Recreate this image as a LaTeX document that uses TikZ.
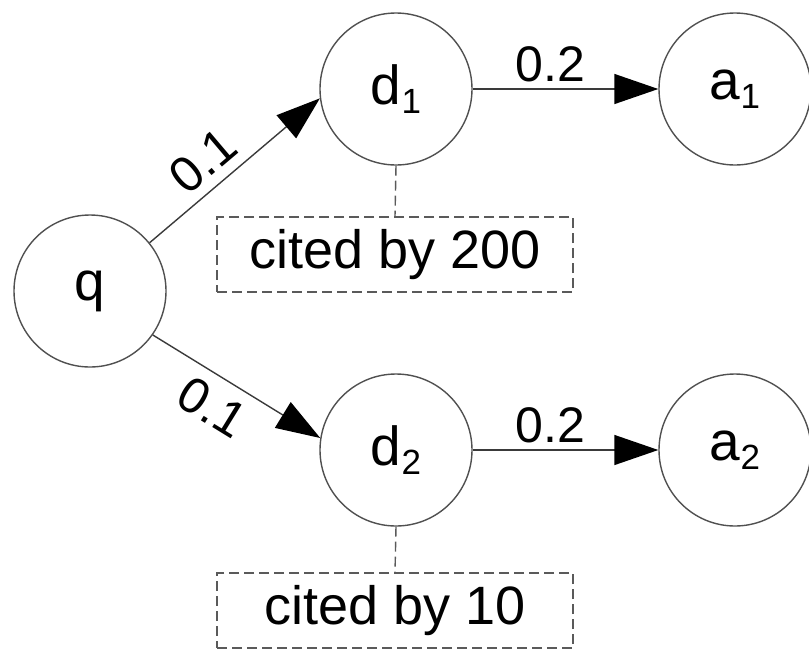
\documentclass[tikz,border=0pt]{standalone}
\usepackage{fontspec}
\setmainfont{Liberation Sans}
\usetikzlibrary{arrows.meta}
\definecolor{linegray}{HTML}{3A3A3A}
\definecolor{circgray}{HTML}{505050}
\definecolor{dashgray}{HTML}{5A5A5A}
\newcommand{\subidx}[1]{\raisebox{-9pt}{\fontsize{35}{40}\selectfont #1}}
\begin{document}
\begin{tikzpicture}[x=1pt,y=-1pt,
  state/.style={circle,draw=circgray,line width=1.4pt,minimum size=152pt,inner sep=0pt,font=\fontsize{55}{66}\selectfont},
  citebox/.style={draw=dashgray,dashed,dash pattern=on 10pt off 5pt,line width=1.4pt,minimum width=356pt,minimum height=75pt,inner sep=0pt,font=\fontsize{54}{64}\selectfont},
  arr/.style={draw=linegray,line width=1.4pt,-{Triangle[length=44pt,width=30pt,fill=black,color=black]}},
  dashline/.style={draw=dashgray,line width=1.4pt,dash pattern=on 10pt off 5pt},
  wlabel/.style={font=\fontsize{50}{60}\selectfont,inner sep=2pt}]
\useasboundingbox (0,0) rectangle (809,649);
\node[state] (q) at (90,291) {q};
\node[state] (d1) at (396,89) {d\subidx{1}};
\node[state] (a1) at (735,89) {a\subidx{1}};
\node[state] (d2) at (396,450) {d\subidx{2}};
\node[state] (a2) at (735,450) {a\subidx{2}};
\node[citebox] (c1) at (395,254.5) {cited by 200};
\node[citebox] (c2) at (395,610.5) {cited by 10};
\draw[arr] (q.39) -- node[wlabel,sloped,above=8pt,pos=0.42] (l1) {0.1} (d1.187);
\draw[arr] (q.-35) -- node[wlabel,sloped,below=10pt,pos=0.45] (l2) {0.1} (d2.171);
\draw[arr] (d1.east) -- node[wlabel,above=4pt,pos=0.42] (l3) {0.2} (a1.west);
\draw[arr] (d2.east) -- node[wlabel,above=4pt,pos=0.42] (l4) {0.2} (a2.west);
\draw[dashline] (d1.south) -- (c1.north);
\draw[dashline] (d2.south) -- (c2.north);
\end{tikzpicture}
\end{document}
